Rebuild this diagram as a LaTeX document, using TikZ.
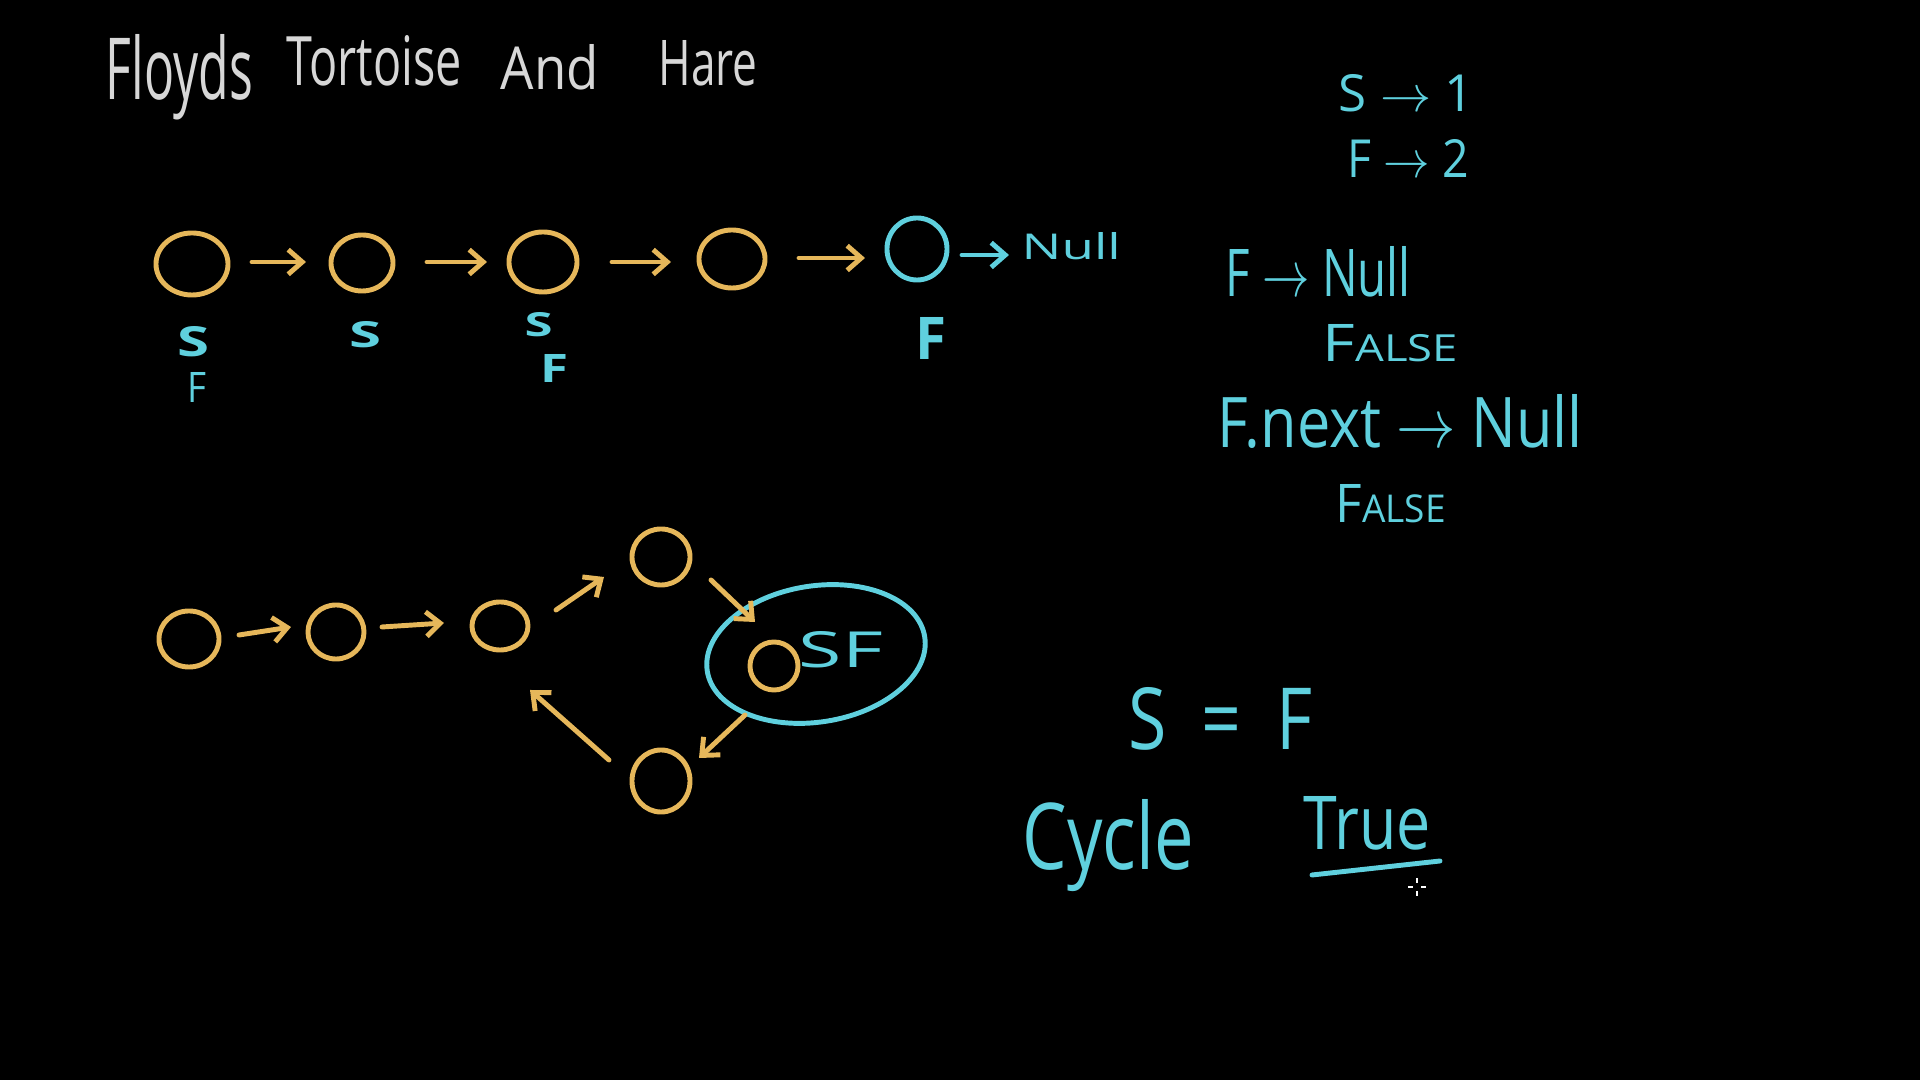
\documentclass[tikz,border=0pt]{standalone}
\usepackage{fontspec}
\setmainfont{Open Sans}
\usepackage{graphicx}
\usetikzlibrary{shapes.geometric,arrows.meta,calc}
\definecolor{yellowc}{RGB}{230,183,90}
\definecolor{cyanc}{RGB}{95,208,222}
\definecolor{grayc}{RGB}{215,215,215}
\newcommand{\hwtext}[3]{\resizebox{#1}{#2}{#3}}
\begin{document}
\begin{tikzpicture}[x=0.01cm,y=-0.01cm,
  ynode/.style={draw=yellowc, line width=1.4pt, ellipse, inner sep=0pt},
  cnode/.style={draw=cyanc, line width=1.4pt, ellipse, inner sep=0pt},
  lbl/.style={anchor=base west, inner sep=0pt, text=cyanc},
  ttl/.style={anchor=base west, inner sep=0pt, text=grayc},
  arr/.style={draw=yellowc, line width=1.4pt, line cap=round, -{Straight Barb[length=4pt,width=7pt]}}]
\fill[black] (0,0) rectangle (1920,1080);
\useasboundingbox (0,0) rectangle (1920,1080);

% title
\node[ttl] (t1) at (105,100) {\hwtext{1.47cm}{0.65cm}{Floyds}};
\node[ttl] (t2) at (286,86) {\hwtext{1.75cm}{0.50cm}{Tortoise}};
\node[ttl] (t3) at (500,90) {\hwtext{0.98cm}{0.45cm}{And}};
\node[ttl] (t4) at (658,86) {\hwtext{0.99cm}{0.45cm}{Hare}};

% top row
\node[ynode, minimum width=0.72cm, minimum height=0.62cm] (c1) at (192,264) {};
\node[ynode, minimum width=0.62cm, minimum height=0.56cm] (c2) at (362,263) {};
\node[ynode, minimum width=0.68cm, minimum height=0.60cm] (c3) at (543,262) {};
\node[ynode, minimum width=0.66cm, minimum height=0.58cm] (c4) at (732,259) {};
\node[cnode, minimum width=0.60cm, minimum height=0.62cm] (c5) at (917,249) {};
\node[lbl] (null) at (1021,260) {\hwtext{0.99cm}{0.27cm}{Null}};

\draw[arr] ($(c1)+(60,-2)$) -- ($(c2)+(-56,-1)$);
\draw[arr] ($(c2)+(65,-1)$) -- ($(c3)+(-56,0)$);
\draw[arr] ($(c3)+(69,0)$) -- ($(c4)+(-61,3)$);
\draw[arr] ($(c4)+(67,-1)$) -- ($(c5)+(-52,9)$);
\draw[arr, draw=cyanc] ($(c5)+(45,6)$) -- ($(null.base west)+(-12,-5)$);

\node[lbl] (s1) at (177,357) {\hwtext{0.32cm}{0.30cm}{\bfseries S}};
\node[lbl] (f1) at (187,403) {\hwtext{0.19cm}{0.30cm}{F}};
\node[lbl] (s2) at (349,348) {\hwtext{0.32cm}{0.26cm}{\bfseries S}};
\node[lbl] (s3) at (524,337) {\hwtext{0.28cm}{0.24cm}{\bfseries S}};
\node[lbl] (f3) at (540,383) {\hwtext{0.28cm}{0.28cm}{\bfseries F}};
\node[lbl] (f5) at (915,360) {\hwtext{0.31cm}{0.42cm}{\bfseries F}};

% right notes
\node[lbl] (n1) at (1338,112) {\hwtext{1.35cm}{0.37cm}{S \(\rightarrow\) 1}};
\node[lbl] (n2) at (1347,178) {\hwtext{1.21cm}{0.38cm}{F \(\rightarrow\) 2}};
\node[lbl] (n3) at (1225,297) {\hwtext{1.85cm}{0.50cm}{F \(\rightarrow\) Null}};
\node[lbl] (n4) at (1322,362) {\hwtext{1.35cm}{0.37cm}{F\scalebox{0.72}{ALSE}}};
\node[lbl] (n5) at (1217,448) {\hwtext{3.65cm}{0.53cm}{F.next \(\rightarrow\) Null}};
\node[lbl] (n6) at (1335,523) {\hwtext{1.10cm}{0.38cm}{F\scalebox{0.72}{ALSE}}};

\node[lbl] (eq) at (1128,750) {\hwtext{1.84cm}{0.62cm}{S\enspace=\enspace F}};
\node[lbl] (cyc) at (1022,870) {\hwtext{1.71cm}{0.70cm}{Cycle}};
\node[lbl] (tru) at (1303,850) {\hwtext{1.27cm}{0.53cm}{True}};
\draw[cyanc, line width=1.4pt, line cap=round] (1312,875) -- (1440,861);

% cursor
\draw[white, line width=0.35pt] (1408,887) -- (1413,887) (1421,887) -- (1426,887)
  (1417,878) -- (1417,883) (1417,891) -- (1417,896);

% bottom graph
\node[ynode, minimum width=0.60cm, minimum height=0.56cm] (b1) at (189,639) {};
\node[ynode, minimum width=0.56cm, minimum height=0.54cm] (b2) at (336,632) {};
\node[ynode, minimum width=0.56cm, minimum height=0.48cm] (b3) at (500,626) {};
\node[ynode, minimum width=0.58cm, minimum height=0.56cm] (b4) at (661,557) {};
\node[ynode, minimum width=0.48cm, minimum height=0.48cm] (b5) at (774,666) {};
\node[ynode, minimum width=0.58cm, minimum height=0.62cm] (b6) at (661,781) {};
\node[lbl] (sf) at (798,668) {\hwtext{0.84cm}{0.36cm}{SF}};
\node[cnode, rotate=9, minimum width=2.20cm, minimum height=1.36cm] (ring) at (816,654) {};

\draw[arr] ($(b1)+(50,-4)$) -- ($(b2)+(-45,-5)$);
\draw[arr] ($(b2)+(46,-5)$) -- ($(b3)+(-56,-3)$);
\draw[arr] ($(b3)+(56,-16)$) -- ($(b4)+(-57,20)$);
\draw[arr] ($(b4)+(50,23)$) -- ($(b5)+(-19,-44)$);
\draw[arr] ($(b5)+(-29,49)$) -- ($(b6)+(38,-23)$);
\draw[arr] ($(b6)+(-52,-21)$) -- ($(b3)+(30,64)$);
\end{tikzpicture}
\end{document}
